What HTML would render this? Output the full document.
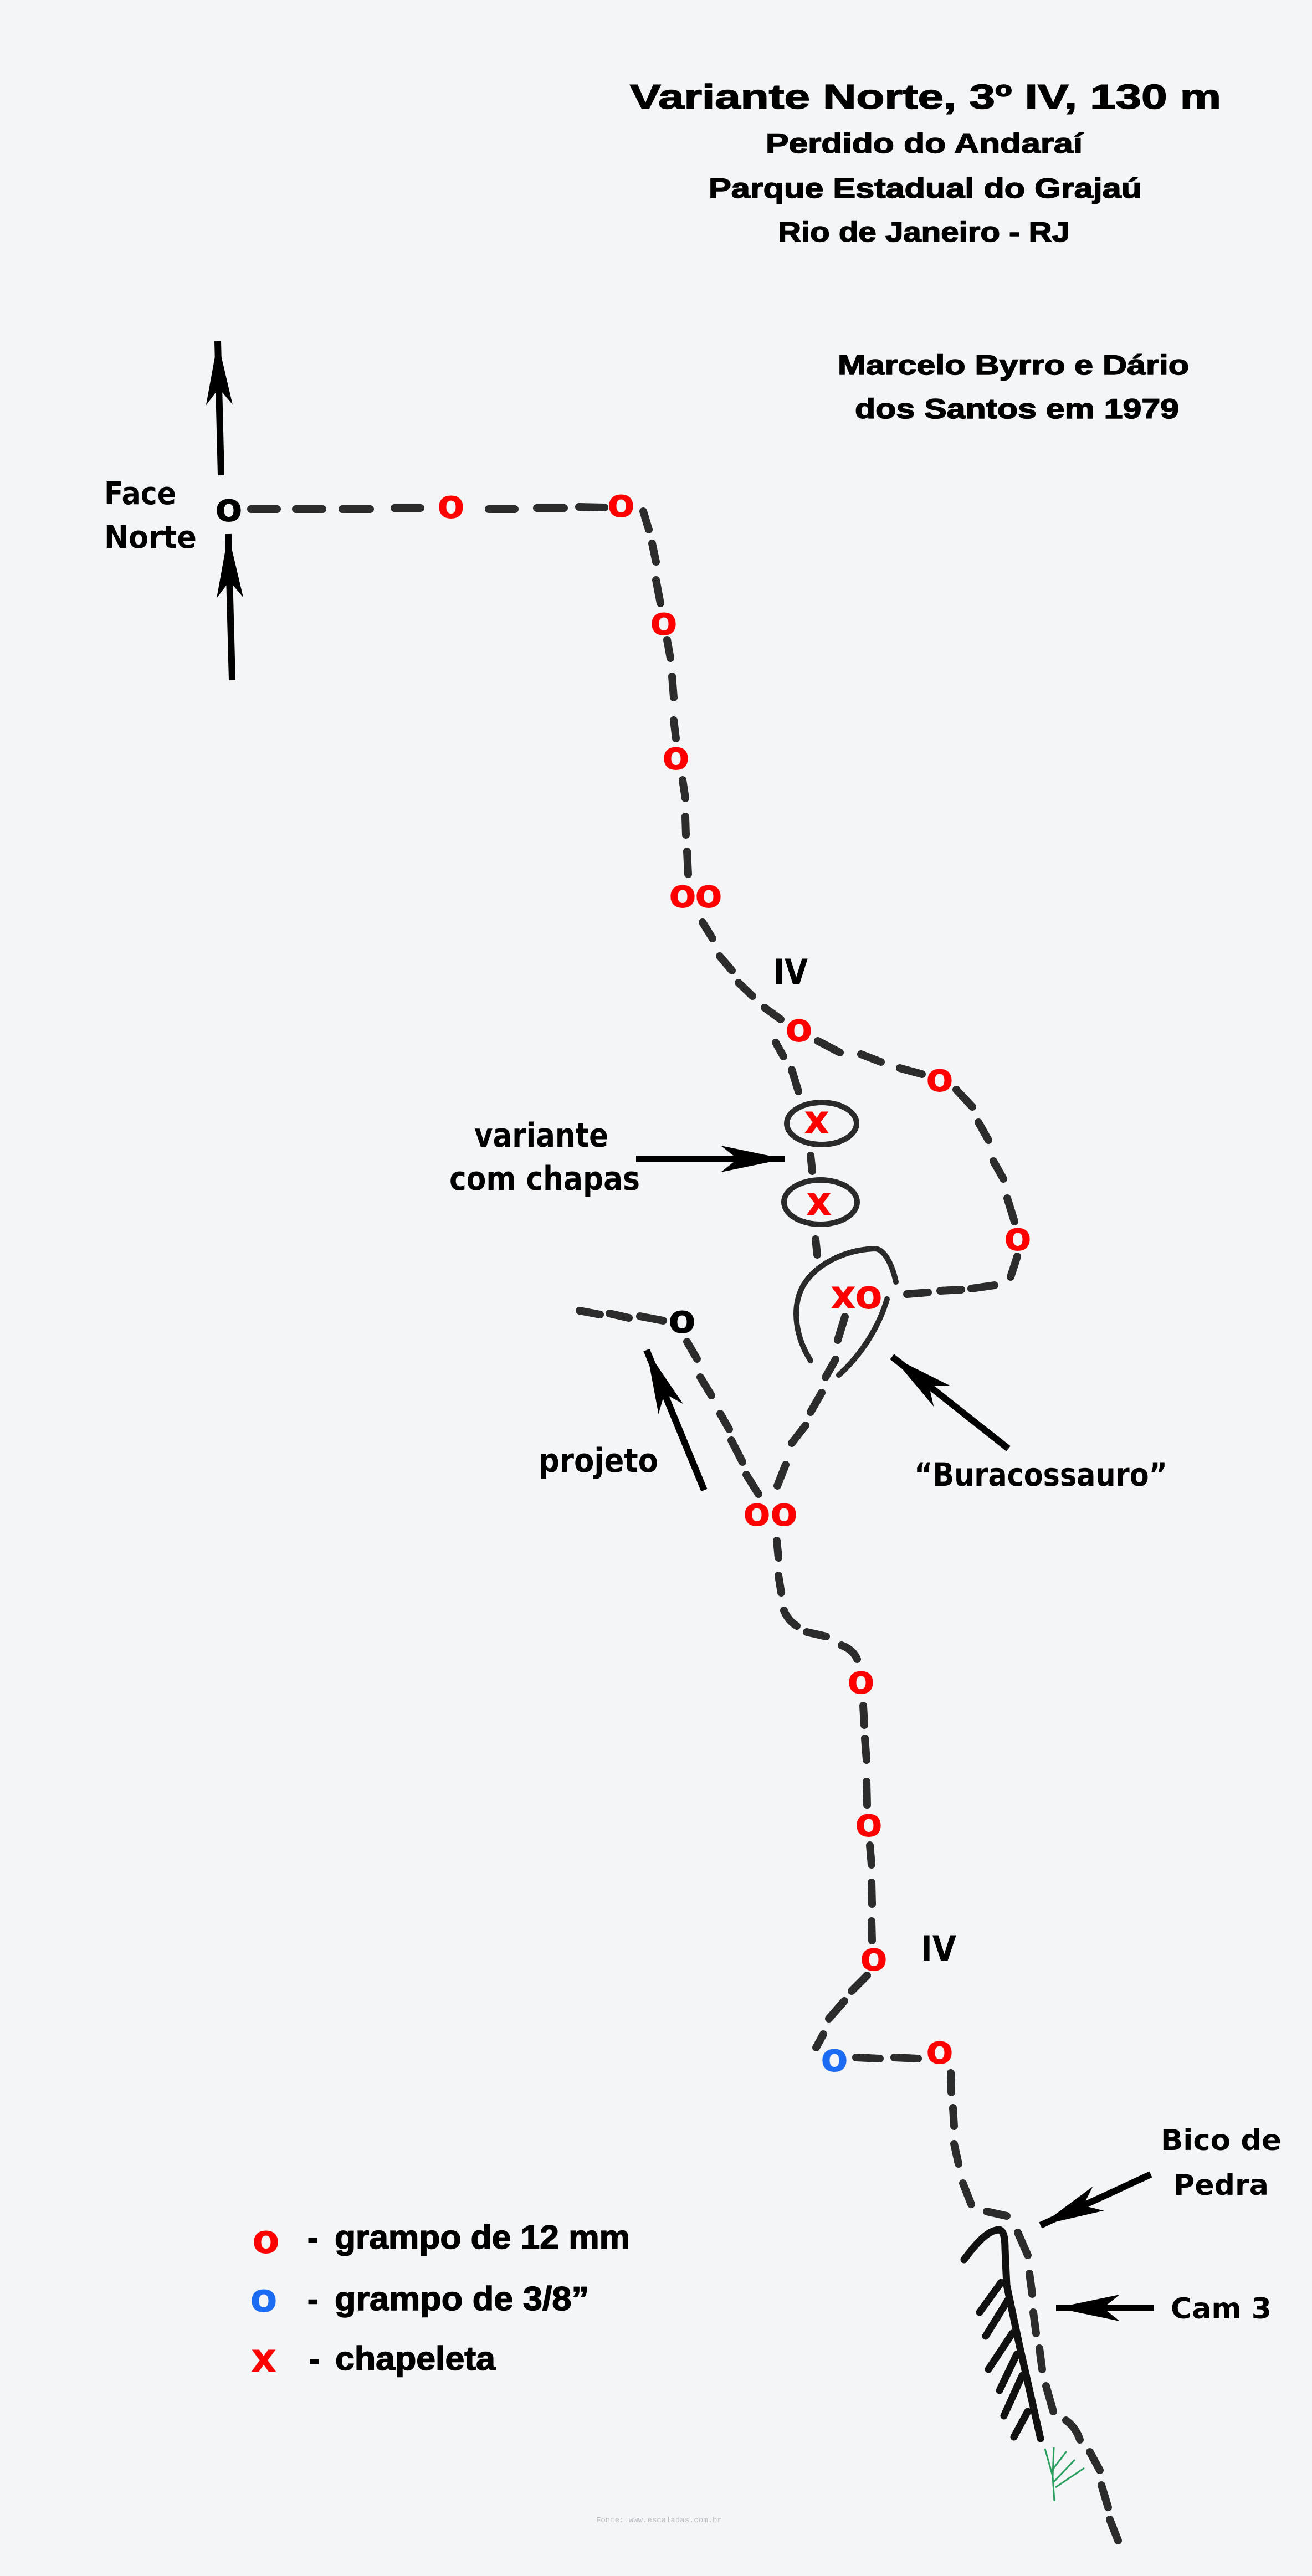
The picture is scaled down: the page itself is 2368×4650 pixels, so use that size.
<!DOCTYPE html>
<html><head><meta charset="utf-8"><style>
html,body{margin:0;padding:0;background:#f3f5f7;}
svg{display:block;}
.d{stroke:#2c2c2c;stroke-width:14;stroke-linecap:round;fill:none;}
.r{fill:#f00;font-family:"DejaVu Sans",sans-serif;font-weight:bold;font-size:72px;text-anchor:middle;}
.b{fill:#1b6cf2;font-family:"DejaVu Sans",sans-serif;font-weight:bold;font-size:72px;text-anchor:middle;}
.k{fill:#000;font-family:"DejaVu Sans",sans-serif;font-weight:bold;font-size:72px;text-anchor:middle;}
.w{fill:#000;font-family:"DejaVu Sans",sans-serif;font-weight:bold;}
.n{fill:#000;font-family:"Liberation Sans",sans-serif;font-weight:bold;stroke:#000;stroke-width:1.5;}
.a{stroke:#000;stroke-width:12;fill:none;marker-end:url(#ah);}
</style></head><body>
<svg width="2368" height="4650" viewBox="0 0 2368 4650" xmlns="http://www.w3.org/2000/svg">
<defs>
<marker id="ah" markerUnits="userSpaceOnUse" markerWidth="140" markerHeight="60" viewBox="-130 -30 140 60" refX="0" refY="0" orient="auto">
<path d="M0,0 L-115,-24 L-85,0 L-115,24 Z" fill="#000"/>
</marker>
</defs>
<rect width="2368" height="4650" fill="#f3f5f7"/>

<text class="n" x="1137" y="196" font-size="62" textLength="1067" lengthAdjust="spacingAndGlyphs">Variante Norte, 3º IV, 130 m</text>
<text class="n" x="1382" y="276" font-size="50" textLength="572" lengthAdjust="spacingAndGlyphs">Perdido do Andaraí</text>
<text class="n" x="1279" y="357" font-size="50" textLength="782" lengthAdjust="spacingAndGlyphs">Parque Estadual do Grajaú</text>
<text class="n" x="1404" y="436" font-size="50" textLength="527" lengthAdjust="spacingAndGlyphs">Rio de Janeiro - RJ</text>
<text class="n" x="1512" y="676" font-size="50" textLength="634" lengthAdjust="spacingAndGlyphs">Marcelo Byrro e Dário</text>
<text class="n" x="1543" y="755" font-size="50" textLength="585" lengthAdjust="spacingAndGlyphs">dos Santos em 1979</text>

<text class="w" x="188" y="910" font-size="56" textLength="130" lengthAdjust="spacingAndGlyphs">Face</text>
<text class="w" x="188" y="989" font-size="56" textLength="167" lengthAdjust="spacingAndGlyphs">Norte</text>
<text class="w" x="1396" y="1776" font-size="62" textLength="62" lengthAdjust="spacingAndGlyphs">IV</text>
<text class="w" x="1662" y="3539" font-size="62" textLength="64" lengthAdjust="spacingAndGlyphs">IV</text>
<text class="w" x="856" y="2070" font-size="60" textLength="242" lengthAdjust="spacingAndGlyphs">variante</text>
<text class="w" x="811" y="2148" font-size="60" textLength="344" lengthAdjust="spacingAndGlyphs">com chapas</text>
<text class="w" x="972" y="2657" font-size="60" textLength="216" lengthAdjust="spacingAndGlyphs">projeto</text>
<text class="w" x="1650" y="2682" font-size="58" textLength="457" lengthAdjust="spacingAndGlyphs">“Buracossauro”</text>
<text class="w" x="2095" y="3881" font-size="52" textLength="218" lengthAdjust="spacingAndGlyphs">Bico de</text>
<text class="w" x="2118" y="3962" font-size="52" textLength="172" lengthAdjust="spacingAndGlyphs">Pedra</text>
<text class="w" x="2113" y="4185" font-size="52" textLength="182" lengthAdjust="spacingAndGlyphs">Cam 3</text>

<text class="r" x="480" y="4067">o</text>
<text class="b" x="476" y="4173">o</text>
<text class="r" x="476" y="4281">x</text>
<text class="n" x="555" y="4059" font-size="58">-</text>
<text class="n" x="555" y="4170" font-size="58">-</text>
<text class="n" x="558" y="4278" font-size="58">-</text>
<text class="n" x="604" y="4059" font-size="60" textLength="533" lengthAdjust="spacingAndGlyphs">grampo de 12 mm</text>
<text class="n" x="604" y="4170" font-size="60" textLength="459" lengthAdjust="spacingAndGlyphs">grampo de 3/8”</text>
<text class="n" x="605" y="4278" font-size="60" textLength="289" lengthAdjust="spacingAndGlyphs">chapeleta</text>
<text x="1076" y="4553" font-family="Liberation Mono, monospace" font-size="14" fill="#b8bcc0">Fonte: www.escaladas.com.br</text>

<line class="a" x1="399" y1="858" x2="393" y2="616"/>
<line class="a" x1="419" y1="1228" x2="412" y2="964"/>
<line class="a" x1="1148" y1="2092" x2="1416" y2="2092"/>
<line class="a" x1="1271" y1="2690" x2="1167" y2="2437"/>
<line class="a" x1="1820" y1="2615" x2="1610" y2="2449"/>
<line class="a" x1="2077" y1="3925" x2="1878" y2="4017"/>
<line class="a" x1="2083" y1="4166" x2="1906" y2="4166"/>

<g class="d">
<line x1="453" y1="919" x2="500" y2="919"/><line x1="534" y1="919" x2="582" y2="919"/>
<line x1="618" y1="919" x2="668" y2="919"/><line x1="712" y1="917" x2="759" y2="917"/>
<line x1="882" y1="919" x2="929" y2="919"/><line x1="969" y1="917" x2="1018" y2="917"/>
<line x1="1045" y1="915" x2="1091" y2="916"/>
<line x1="1161" y1="923" x2="1171" y2="956"/><line x1="1177" y1="981" x2="1184" y2="1014"/>
<line x1="1184" y1="1047" x2="1192" y2="1089"/>
<line x1="1204" y1="1155" x2="1210" y2="1188"/><line x1="1213" y1="1221" x2="1216" y2="1259"/>
<line x1="1216" y1="1300" x2="1220" y2="1333"/>
<line x1="1232" y1="1408" x2="1237" y2="1441"/><line x1="1237" y1="1474" x2="1238" y2="1507"/>
<line x1="1240" y1="1537" x2="1242" y2="1578"/>
<line x1="1268" y1="1665" x2="1286" y2="1694"/><line x1="1299" y1="1726" x2="1321" y2="1752"/>
<line x1="1333" y1="1774" x2="1358" y2="1798"/><line x1="1380" y1="1819" x2="1409" y2="1840"/>
<line x1="1400" y1="1882" x2="1414" y2="1907"/><line x1="1429" y1="1931" x2="1441" y2="1970"/>
<line x1="1463" y1="2086" x2="1466" y2="2114"/><line x1="1472" y1="2237" x2="1475" y2="2265"/>
<line x1="1476" y1="1879" x2="1516" y2="1900"/><line x1="1554" y1="1903" x2="1590" y2="1917"/>
<line x1="1624" y1="1928" x2="1664" y2="1939"/>
<line x1="1726" y1="1967" x2="1755" y2="1998"/><line x1="1766" y1="2026" x2="1784" y2="2058"/>
<line x1="1793" y1="2096" x2="1811" y2="2128"/><line x1="1818" y1="2163" x2="1831" y2="2205"/>
<line x1="1836" y1="2268" x2="1824" y2="2305"/>
<line x1="1795" y1="2320" x2="1753" y2="2326"/><line x1="1735" y1="2328" x2="1697" y2="2330"/>
<line x1="1675" y1="2333" x2="1637" y2="2336"/>
<line x1="1525" y1="2377" x2="1512" y2="2419"/><line x1="1508" y1="2454" x2="1490" y2="2486"/>
<line x1="1483" y1="2514" x2="1463" y2="2549"/><line x1="1454" y1="2573" x2="1429" y2="2605"/>
<line x1="1418" y1="2644" x2="1403" y2="2682"/>
<line x1="1046" y1="2366" x2="1083" y2="2373"/><line x1="1100" y1="2371" x2="1135" y2="2379"/>
<line x1="1155" y1="2376" x2="1197" y2="2384"/>
<line x1="1240" y1="2422" x2="1258" y2="2453"/><line x1="1264" y1="2486" x2="1284" y2="2519"/>
<line x1="1300" y1="2552" x2="1316" y2="2580"/><line x1="1320" y1="2600" x2="1340" y2="2639"/>
<line x1="1347" y1="2662" x2="1369" y2="2697"/>
<line x1="1402" y1="2781" x2="1405" y2="2812"/><line x1="1405" y1="2844" x2="1410" y2="2875"/>
<path d="M1415,2907 Q1422,2925 1438,2935"/><line x1="1456" y1="2946" x2="1491" y2="2954"/>
<path d="M1519,2970 Q1540,2978 1547,2995"/>
<line x1="1558" y1="3079" x2="1560" y2="3114"/><line x1="1561" y1="3138" x2="1564" y2="3177"/>
<line x1="1564" y1="3216" x2="1565" y2="3258"/>
<line x1="1570" y1="3331" x2="1573" y2="3366"/><line x1="1573" y1="3398" x2="1574" y2="3437"/>
<line x1="1573" y1="3468" x2="1574" y2="3503"/>
<line x1="1565" y1="3566" x2="1537" y2="3594"/><line x1="1524" y1="3612" x2="1496" y2="3644"/>
<line x1="1486" y1="3672" x2="1473" y2="3696"/>
<line x1="1545" y1="3714" x2="1588" y2="3716"/><line x1="1614" y1="3714" x2="1657" y2="3716"/>
<line x1="1716" y1="3742" x2="1717" y2="3777"/>
<line x1="1720" y1="3805" x2="1722" y2="3838"/><line x1="1722" y1="3870" x2="1730" y2="3906"/>
<line x1="1738" y1="3941" x2="1753" y2="3979"/><line x1="1781" y1="3992" x2="1817" y2="4000"/>
<line x1="1837" y1="4030" x2="1855" y2="4071"/><line x1="1858" y1="4104" x2="1863" y2="4141"/>
<line x1="1865" y1="4174" x2="1870" y2="4212"/><line x1="1876" y1="4239" x2="1881" y2="4277"/>
<line x1="1888" y1="4307" x2="1901" y2="4353"/><path d="M1924,4369 Q1942,4382 1949,4404"/>
<line x1="1967" y1="4426" x2="1985" y2="4459"/><line x1="1988" y1="4486" x2="2000" y2="4526"/>
<line x1="2003" y1="4548" x2="2018" y2="4586"/>
</g>

<g stroke="#2a2a2a" stroke-width="10" fill="none" stroke-linecap="round">
<ellipse cx="1483" cy="2028" rx="63" ry="38"/>
<ellipse cx="1481" cy="2170" rx="66" ry="40"/>
<path d="M1463,2456 C1440,2420 1425,2365 1450,2320 C1478,2275 1535,2255 1581,2254 C1600,2258 1612,2290 1617,2314"/>
<path d="M1601,2345 C1585,2400 1550,2450 1514,2482"/>
</g>

<g stroke="#111" stroke-width="13" fill="none" stroke-linecap="round">
<path d="M1740,4079 C1765,4045 1785,4025 1804,4025 C1812,4028 1814,4040 1814,4060 L1817,4125 L1840,4234 L1878,4402"/>
<line x1="1807" y1="4120" x2="1768" y2="4174"/>
<line x1="1819" y1="4152" x2="1779" y2="4217"/>
<line x1="1827" y1="4212" x2="1784" y2="4277"/>
<line x1="1835" y1="4250" x2="1804" y2="4315"/>
<line x1="1845" y1="4288" x2="1812" y2="4361"/>
<line x1="1855" y1="4353" x2="1830" y2="4399"/>
</g>
<g stroke="#2aa060" stroke-width="3" fill="none">
<path d="M1903,4515 L1900,4470 L1886,4420"/>
<path d="M1900,4470 L1902,4418"/>
<path d="M1902,4480 L1940,4440"/>
<path d="M1905,4490 L1957,4455"/>
<path d="M1898,4460 L1925,4425"/>
</g>

<text class="k" x="413" y="941">o</text>
<text class="k" x="1231" y="2406">o</text>
<text class="r" x="814" y="935">o</text>
<text class="r" x="1121" y="933">o</text>
<text class="r" x="1198" y="1146">o</text>
<text class="r" x="1220" y="1389">o</text>
<text class="r" x="1232" y="1638">o</text>
<text class="r" x="1279" y="1638">o</text>
<text class="r" x="1442" y="1880">o</text>
<text class="r" x="1696" y="1970">o</text>
<text class="r" x="1837" y="2257">o</text>
<text class="r" x="1522" y="2362">x</text>
<text class="r" x="1568" y="2362">o</text>
<text class="r" x="1474" y="2046">x</text>
<text class="r" x="1478" y="2193">x</text>
<text class="r" x="1366" y="2754">o</text>
<text class="r" x="1415" y="2754">o</text>
<text class="r" x="1554" y="3057">o</text>
<text class="r" x="1568" y="3315">o</text>
<text class="r" x="1577" y="3557">o</text>
<text class="b" x="1506" y="3739">o</text>
<text class="r" x="1696" y="3725">o</text>
</svg>
</body></html>
